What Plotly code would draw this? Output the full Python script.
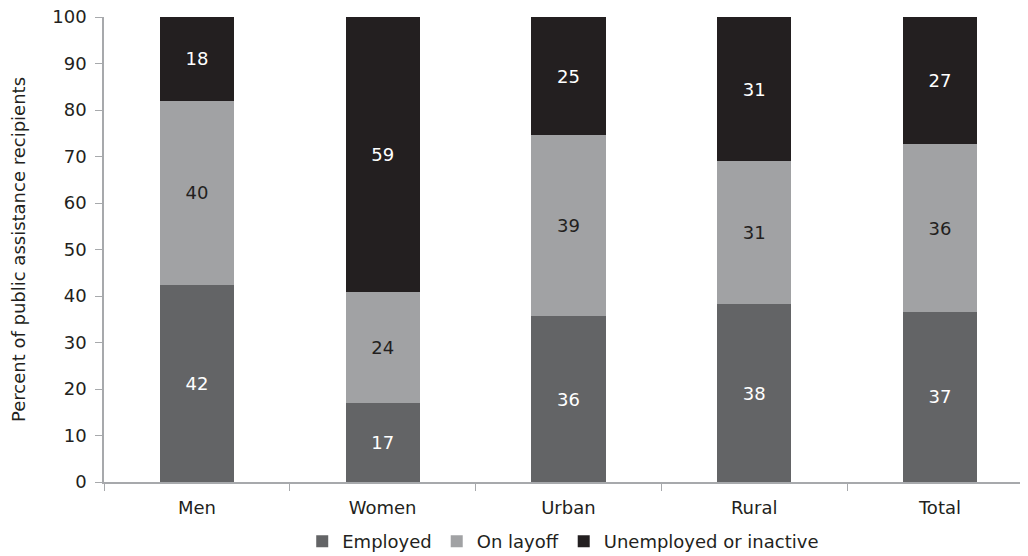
import plotly.graph_objects as go

categories = ["Men", "Women", "Urban", "Rural", "Total"]
employed = [42.4, 16.9, 35.6, 38.2, 36.6]
on_layoff = [39.6, 23.9, 39.0, 30.8, 36.0]
unemployed = [18.0, 59.2, 25.4, 31.0, 27.4]
y_ticks = [0, 10, 20, 30, 40, 50, 60, 70, 80, 90, 100]

FONT = "DejaVu Sans"
TXT = "#231f20"
FS = 18

fig = go.Figure()
series = [
    ("Employed", employed, "#636466", "white"),
    ("On layoff", on_layoff, "#a1a2a4", TXT),
    ("Unemployed or inactive", unemployed, "#231f20", "white"),
]
for name, vals, col, tcol in series:
    fig.add_trace(go.Bar(
        x=categories, y=vals, name=name,
        marker=dict(color=col, line=dict(width=0)),
        width=0.4,
        texttemplate="%{y:.0f}", textposition="inside",
        insidetextanchor="middle",
        textfont=dict(family=FONT, size=FS, color=tcol),
        constraintext="none",
    ))

fig.update_layout(
    barmode="stack",
    width=1020, height=548,
    margin=dict(l=96, r=0, t=9, b=74, autoexpand=False),
    paper_bgcolor="white", plot_bgcolor="white",
    font=dict(family=FONT, size=FS, color=TXT),
    showlegend=True,
    legend=dict(orientation="h", x=0.497, xanchor="center", y=-0.128, yanchor="middle",
                font=dict(family=FONT, size=FS, color=TXT), traceorder="normal",
                itemwidth=30),
    uniformtext=dict(mode=False),
)
fig.update_xaxes(
    range=[-0.5, 4.474], showline=True, linecolor="#a7a9ac", linewidth=1.5,
    ticks="outside", tickson="boundaries", ticklen=7, tickcolor="#a7a9ac",
    ticklabelstandoff=9, ticklabeloverflow="allow",
    tickfont=dict(family=FONT, size=FS, color=TXT), showgrid=False, automargin=False,
)
fig.update_yaxes(
    range=[0, 100], tickvals=y_ticks, showline=True, linecolor="#a7a9ac", linewidth=1.5,
    ticks="outside", ticklen=7, tickcolor="#a7a9ac", showgrid=False, zeroline=False,
    ticklabelstandoff=5, ticklabeloverflow="allow",
    tickfont=dict(family=FONT, size=FS, color=TXT), automargin=False,
    title=dict(text="Percent of public assistance recipients",
               font=dict(family=FONT, size=FS, color=TXT), standoff=33),
)

fig.write_html("out.html")
